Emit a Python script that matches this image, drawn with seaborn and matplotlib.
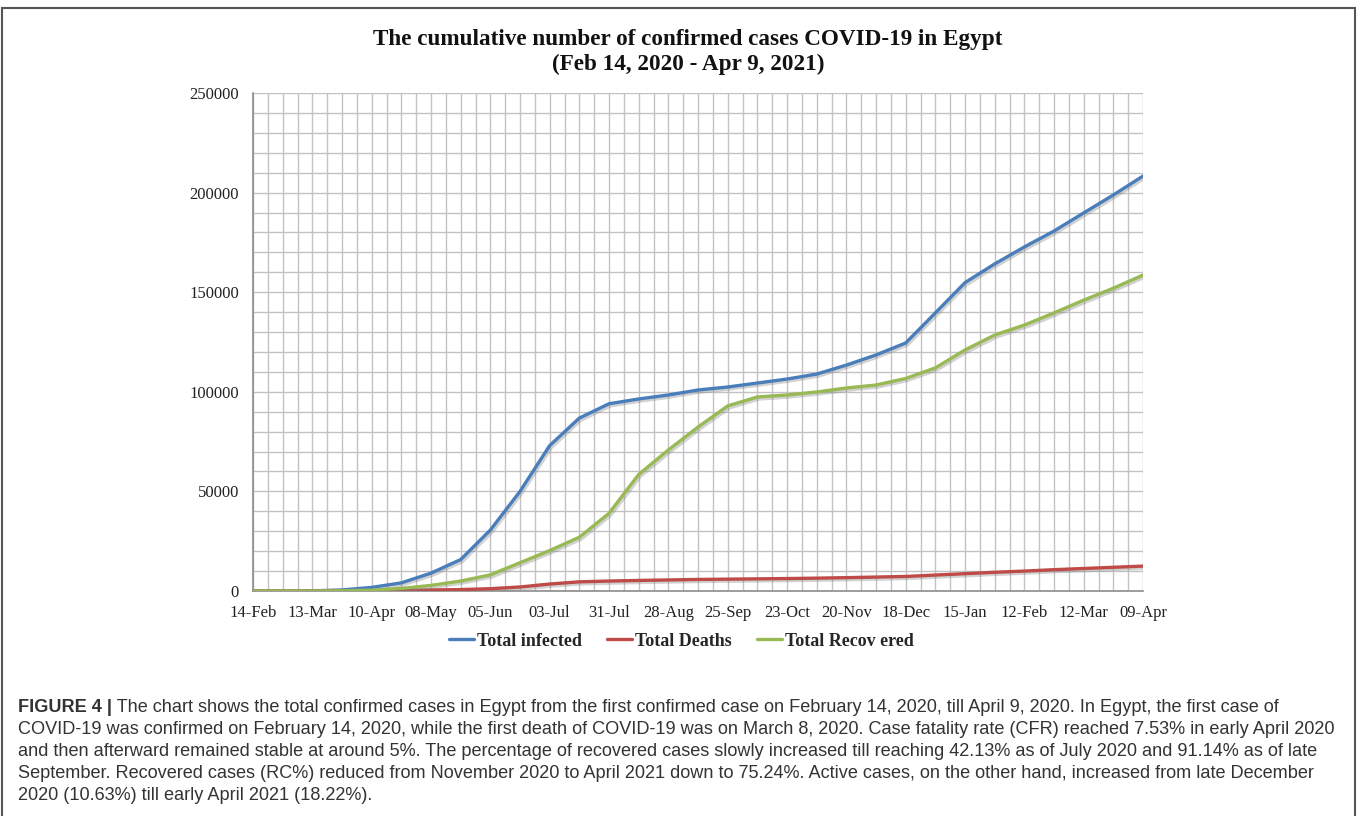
import numpy as np
import pandas as pd
import matplotlib
matplotlib.use("Agg")
import matplotlib.pyplot as plt
import matplotlib.patheffects as pe
from matplotlib.lines import Line2D
from matplotlib.patches import Rectangle
import seaborn as sns

# ---------------- data (biweekly readings, Feb 14 2020 - Apr 9 2021) ----------------
dates = pd.date_range("2020-02-14", "2021-04-09", freq="14D")
total_infected = [1, 1, 80, 536, 1794, 4092, 8964, 15786, 30600, 50000, 73000, 86800,
                  94000, 96400, 98400, 100900, 102400, 104400, 106400, 108900, 113400,
                  118500, 124500, 139600, 154800, 164200, 172700, 180700, 189800, 198800,
                  208300]
total_deaths = [0, 0, 2, 30, 135, 307, 514, 707, 1166, 2017, 3500, 4600,
                5000, 5300, 5550, 5800, 5950, 6100, 6250, 6450, 6700,
                7000, 7300, 8000, 8700, 9400, 10000, 10700, 11300, 11900,
                12500]
total_recovered = [0, 0, 14, 116, 400, 1300, 2800, 5000, 8100, 14200, 20300, 27000,
                   39000, 58500, 70800, 82300, 92900, 97400, 98400, 99900, 101900,
                   103400, 106700, 112000, 121000, 128500, 133500, 139600, 146000, 152000,
                   158600]
series_names = ["Total infected", "Total Deaths", "Total Recovered"]
legend_labels = ["Total infected", "Total Deaths", "Total Recov ered"]
colors = ["#4A7EBB", "#BE4B48", "#98B954"]
tick_labels = ["14-Feb", "13-Mar", "10-Apr", "08-May", "05-Jun", "03-Jul", "31-Jul",
               "28-Aug", "25-Sep", "23-Oct", "20-Nov", "18-Dec", "15-Jan", "12-Feb",
               "12-Mar", "09-Apr"]
y_ticks = [0, 50000, 100000, 150000, 200000, 250000]

title_lines = ["The cumulative number of confirmed cases COVID-19 in Egypt",
               "(Feb 14, 2020 - Apr 9, 2021)"]
caption_bold = "FIGURE 4 |"
caption_lines = [
    " The chart shows the total confirmed cases in Egypt from the first confirmed case on February 14, 2020, till April 9, 2020. In Egypt, the first case of",
    "COVID-19 was confirmed on February 14, 2020, while the first death of COVID-19 was on March 8, 2020. Case fatality rate (CFR) reached 7.53% in early April 2020",
    "and then afterward remained stable at around 5%. The percentage of recovered cases slowly increased till reaching 42.13% as of July 2020 and 91.14% as of late",
    "September. Recovered cases (RC%) reduced from November 2020 to April 2021 down to 75.24%. Active cases, on the other hand, increased from late December",
    "2020 (10.63%) till early April 2021 (18.22%).",
]

df = pd.DataFrame({
    "date": list(dates) * 3,
    "value": total_infected + total_deaths + total_recovered,
    "series": sum([[n] * len(dates) for n in series_names], []),
})

# ---------------- figure ----------------
sns.set_style("white")
plt.rcParams["font.family"] = ["Liberation Serif", "DejaVu Serif"]

W, H = 1358, 816
fig = plt.figure(figsize=(W / 100, H / 100), dpi=100)
ax = fig.add_axes([253 / W, 1 - 591 / H, (1143 - 253) / W, (591 - 93) / H])

shadow = [pe.SimpleLineShadow(offset=(1.2, -1.5), shadow_color="#808080", alpha=0.35),
          pe.Normal()]
sns.lineplot(data=df, x="date", y="value", hue="series", hue_order=series_names,
             palette=colors, linewidth=2.4, ax=ax, legend=False, zorder=3)
for ln in ax.lines:
    ln.set_path_effects(shadow)

start, end = dates[0], dates[-1]
ax.set_xlim(start, end)
ax.set_ylim(0, 250000)

major_x = pd.date_range(start, end, freq="28D")
minor_x = pd.date_range(start, end, freq="7D")
ax.set_xticks(major_x)
ax.set_xticklabels(tick_labels)
ax.set_xticks(minor_x, minor=True)
ax.set_yticks(y_ticks)
ax.set_yticklabels([str(v) for v in y_ticks])
ax.set_yticks(np.arange(0, 250001, 10000), minor=True)

ax.grid(True, which="both", color="#C2C2C2", linewidth=1.0, zorder=0)
ax.set_axisbelow(True)
for s in ["top", "right"]:
    ax.spines[s].set_visible(False)
for s in ["left", "bottom"]:
    ax.spines[s].set_color("#8C8C8C")
    ax.spines[s].set_linewidth(1.2)
ax.tick_params(axis="both", which="both", direction="out", color="#8C8C8C",
               labelsize=12, labelcolor="#222222")
ax.tick_params(axis="x", which="major", length=6, pad=4)
ax.tick_params(axis="x", which="minor", length=6)
ax.tick_params(axis="y", which="major", length=6, pad=4)
ax.tick_params(axis="y", which="minor", length=0)
ax.set_xlabel("")
ax.set_ylabel("")

fig.text(688 / W, 1 - 39 / H, title_lines[0], ha="center", va="center", fontsize=16.7,
         fontweight="bold", color="#111111")
fig.text(688 / W, 1 - 64 / H, title_lines[1], ha="center", va="center", fontsize=16.7,
         fontweight="bold", color="#111111")

handles = [Line2D([0], [0], color=c, lw=2.4) for c in colors]
fig.legend(handles, legend_labels, loc="center", bbox_to_anchor=(681 / W, 1 - 641 / H),
           ncol=3, frameon=False, handlelength=1.4, handletextpad=0.15,
           columnspacing=1.4, borderpad=0.0,
           prop={"family": "Liberation Serif", "weight": "bold", "size": 13})

# caption
cap_font = {"family": "Liberation Sans", "size": 13.1, "color": "#333333"}
x0 = 18 / W
y0 = 1 - 707 / H
dy = 22 / H
fig.canvas.draw()
r = fig.canvas.get_renderer()
tb = fig.text(x0, y0, caption_bold, fontweight="bold", va="center", ha="left", **cap_font)
bb = tb.get_window_extent(renderer=r)
fig.text(bb.x1 / W, y0, caption_lines[0], va="center", ha="left", **cap_font)
for i, line in enumerate(caption_lines[1:], start=1):
    fig.text(x0, y0 - i * dy, line, va="center", ha="left", **cap_font)

# outer frame
fig.patches.append(Rectangle((2 / W, -0.05), (1355 - 2) / W, 1.05 - 8 / H,
                             transform=fig.transFigure, fill=False,
                             edgecolor="#555555", linewidth=1.5))

fig.savefig("out.png", dpi=100)
